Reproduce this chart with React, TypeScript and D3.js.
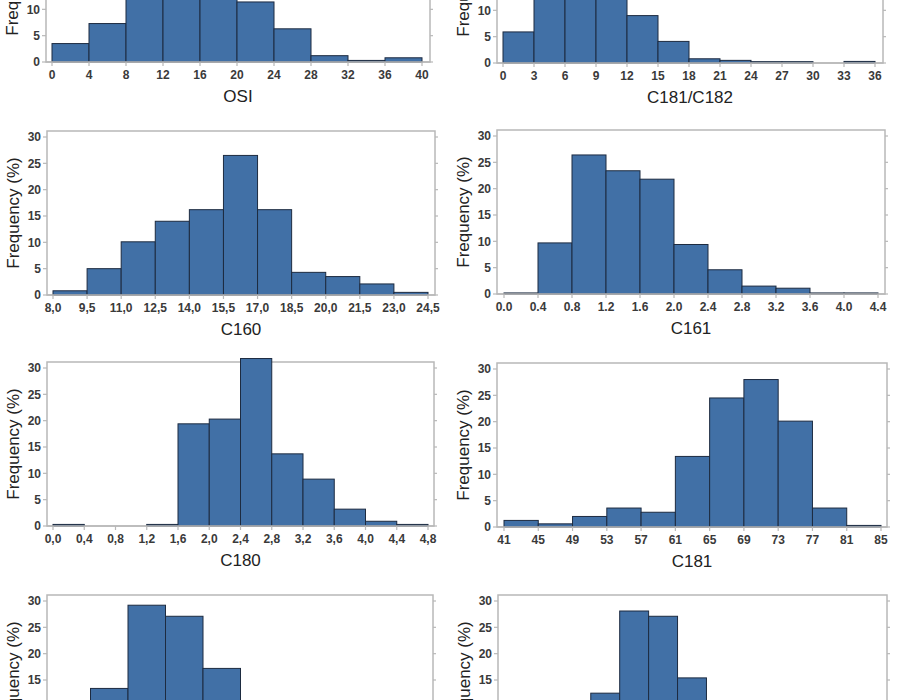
import React from 'react';
import * as d3 from 'd3';

// bin edges (tick labels as printed) and frequencies (%) per panel
const osiTicks = ['0', '4', '8', '12', '16', '20', '24', '28', '32', '36', '40'];
const osiValues = [3.5, 7.3, 20.5, 25.3, 23.4, 11.4, 6.3, 1.2, 0.3, 0.8];

const ratioTicks = ['0', '3', '6', '9', '12', '15', '18', '21', '24', '27', '30', '33', '36'];
const ratioValues = [5.9, 22.4, 29.5, 27.0, 9.0, 4.1, 0.8, 0.5, 0.25, 0.25, 0, 0.3];

const c160Ticks = ['8,0', '9,5', '11,0', '12,5', '14,0', '15,5', '17,0', '18,5', '20,0', '21,5', '23,0', '24,5'];
const c160Values = [0.8, 5.0, 10.1, 14.0, 16.2, 26.5, 16.2, 4.3, 3.5, 2.1, 0.5];

const c161Ticks = ['0.0', '0.4', '0.8', '1.2', '1.6', '2.0', '2.4', '2.8', '3.2', '3.6', '4.0', '4.4'];
const c161Values = [0.2, 9.7, 26.4, 23.4, 21.8, 9.4, 4.6, 1.5, 1.1, 0.2, 0.2];

const c180Ticks = ['0,0', '0,4', '0,8', '1,2', '1,6', '2,0', '2,4', '2,8', '3,2', '3,6', '4,0', '4,4', '4,8'];
const c180Values = [0.3, 0, 0, 0.3, 19.4, 20.3, 31.8, 13.7, 8.9, 3.2, 0.9, 0.3];

const c181Ticks = ['41', '45', '49', '53', '57', '61', '65', '69', '73', '77', '81', '85'];
const c181Values = [1.25, 0.6, 2.0, 3.6, 2.8, 13.4, 24.5, 28.0, 20.1, 3.6, 0.3];

// bottom row: only the upper part is in view
const row4LeftValues = [1.5, 13.4, 29.2, 27.1, 17.2, 7.0, 2.8, 1.2, 0.4, 0.2];
const row4RightValues = [0.3, 0.8, 3.5, 12.5, 28.1, 27.1, 15.4, 7.0, 3.0, 1.2, 0.5, 0.3, 0.2];

const yTicks = [0, 5, 10, 15, 20, 25, 30];

const BAR_FILL = '#4170a6';
const BAR_STROKE = '#1d2b40';
const FRAME = '#b8b8b8';
const FONT = '"Liberation Sans", Arial, sans-serif';

interface PanelProps {
  title: string;
  ticks: string[] | null;
  values: number[];
  y0: number;
  frame: [number, number];
  data: [number, number];
}

const Panel: React.FC<PanelProps> = ({ title, ticks, values, y0, frame, data }) => {
  const n = values.length;
  const x = d3.scaleLinear().domain([0, n]).range(data);
  const y = d3.scaleLinear().domain([0, 30]).range([y0, y0 - 158]);
  const frameTop = y0 - 164;
  const [fl, fr] = frame;
  const edges = d3.range(n + 1);

  return (
    <g fontFamily={FONT}>
      {/* frame */}
      <rect x={fl} y={frameTop} width={fr - fl} height={y0 - frameTop}
        fill="none" stroke={FRAME} strokeWidth={1.5} />

      {/* y ticks both sides */}
      {yTicks.map(t => (
        <g key={t}>
          <line x1={fl - 4} x2={fl} y1={y(t)} y2={y(t)} stroke={FRAME} strokeWidth={1.2} />
          <line x1={fr} x2={fr + 3} y1={y(t)} y2={y(t)} stroke={FRAME} strokeWidth={1.2} />
          <text x={fl - 6} y={y(t)} dy="0.35em" textAnchor="end" fontSize={12}
            fontWeight="bold" fill="#3a3a3a">{t}</text>
        </g>
      ))}

      {/* bars */}
      {values.map((v, i) => (
        <rect key={i} x={x(i)} y={y(v)} width={x(i + 1) - x(i)} height={y0 - y(v)}
          fill={BAR_FILL} stroke={BAR_STROKE} strokeWidth={1} />
      ))}

      {/* x axis */}
      <line x1={fl} x2={fr} y1={y0} y2={y0} stroke={FRAME} strokeWidth={1.5} />
      {edges.map(i => (
        <g key={i}>
          <line x1={x(i)} x2={x(i)} y1={y0} y2={y0 + 4} stroke={FRAME} strokeWidth={1.2} />
          {ticks && (
            <text x={x(i)} y={y0 + 13} dy="0.35em" textAnchor="middle" fontSize={12}
              fontWeight="bold" fill="#3a3a3a">{ticks[i]}</text>
          )}
        </g>
      ))}

      <text x={(fl + fr) / 2} y={y0 + 40} textAnchor="middle" fontSize={17} fill="#222">{title}</text>
      <text transform={`translate(${fl - 28},${y0 - 82}) rotate(-90)`} textAnchor="middle"
        fontSize={17} fill="#222">Frequency (%)</text>
    </g>
  );
};

const App: React.FC = () => (
  <svg width={900} height={700} style={{ position: 'absolute', left: 0, top: 0, background: '#fff' }}>
    <Panel title="OSI" ticks={osiTicks} values={osiValues} y0={62} frame={[46, 430]} data={[52, 422]} />
    <Panel title="C181/C182" ticks={ratioTicks} values={ratioValues} y0={63} frame={[497, 883]} data={[503, 875]} />
    <Panel title="C160" ticks={c160Ticks} values={c160Values} y0={295} frame={[47, 435]} data={[53, 428]} />
    <Panel title="C161" ticks={c161Ticks} values={c161Values} y0={294} frame={[497, 885]} data={[504, 878]} />
    <Panel title="C180" ticks={c180Ticks} values={c180Values} y0={526} frame={[47, 434]} data={[53, 428]} />
    <Panel title="C181" ticks={c181Ticks} values={c181Values} y0={527} frame={[497, 887]} data={[504, 881]} />
    <Panel title="" ticks={null} values={row4LeftValues} y0={759} frame={[47, 433]} data={[53, 428]} />
    <Panel title="" ticks={null} values={row4RightValues} y0={759} frame={[498, 887]} data={[504, 880]} />
  </svg>
);

export default App;
